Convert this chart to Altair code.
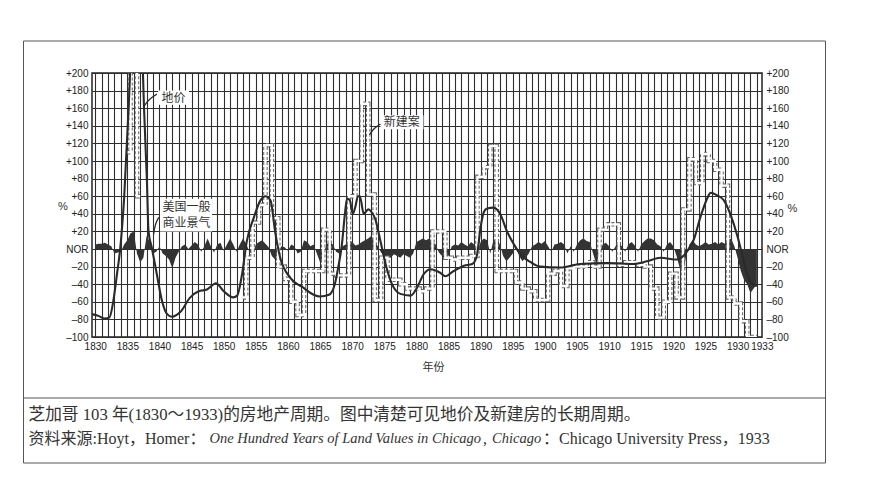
import altair as alt
import pandas as pd

# ---------------- data ----------------
# land values (% of normal), smooth solid line
land_year = [1829.5, 1830.5, 1831.5, 1832.2, 1832.8, 1833.4, 1833.9, 1834.5, 1835.2, 1835.6,
             1836.0, 1837.0, 1837.3, 1837.6, 1838.05, 1838.3, 1838.8, 1839.6, 1840.4, 1841.2,
             1841.95, 1843.2, 1844.8, 1846.1, 1847.4, 1848.8, 1850.0, 1851.5, 1852.1, 1852.85,
             1853.6, 1854.7, 1855.7, 1856.5, 1857.3, 1858.0, 1858.8, 1860.4, 1862.4, 1864.0,
             1865.0, 1866.4, 1867.3, 1867.8, 1868.4, 1868.9, 1869.2, 1869.6, 1870.1, 1870.5,
             1870.9, 1871.2, 1871.8, 1872.5, 1872.9, 1873.6, 1874.4, 1875.2, 1876.2, 1877.5,
             1879.1, 1880.1, 1881.1, 1882.2, 1883.7, 1884.5, 1885.8, 1887.4, 1888.7, 1889.4,
             1890.0, 1890.5, 1891.0, 1892.0, 1893.1, 1894.1, 1895.2, 1896.2, 1897.8, 1899.3,
             1902.4, 1905.5, 1909.7, 1913.8, 1915.9, 1918.0, 1920.6, 1922.2, 1923.2, 1924.2,
             1925.3, 1925.8, 1926.8, 1927.9, 1928.9, 1930.0, 1930.7, 1931.5, 1932.3, 1933.0]
land_val = [-74, -76, -79, -78, -60, -28, 1, 58, 160, 230,
            320, 320, 230, 160, 77, 20, 2, -29, -59, -74,
            -77, -72, -55, -48, -46, -39, -48, -55, -53, -29,
            9, 36, 55, 60, 55, 20, -10, -33, -44, -52,
            -54, -52, -40, -22, 5, 42, 57, 56, 40, 48,
            60, 60, 40, 45, 43, 34, 9, -17, -40, -51,
            -53, -44, -29, -23, -27, -31, -25, -19, -17, -8,
            25, 42, 46, 47, 39, 20, 5, -6, -15, -20,
            -21, -17, -16, -17, -14, -10, -12, -2, 11, 36,
            58, 64, 61, 55, 39, 14, -6, -29, -40, -42]

# new construction (% of normal), yearly steps, two stretches of data
con_year_a = [1835, 1836, 1837]
con_val_a = [110, 250, 60]
con_year_b = list(range(1853, 1934))
con_val_b = [-55, -10, 30, 50, 118, 35, -20, -34, -60, -75,
             -25, -25, -25, 22, -28, -30, -30, 60, 100, 165,
             62, -58, -10, -35, -35, -40, -45, -45, -48, -45,
             20, 20, -10, -12, -10, -10, -8, 82, 93, 117,
             -25, -25, -25, -38, -45, -48, -58, -58, -28, -25,
             -42, -22, -20, -20, -15, -20, 22, 28, 28, -18,
             -15, -15, -18, -20, -45, -78, -60, -28, -55, 45,
             102, 75, 108, 100, 90, 72, -55, -62, -82, -100,
             -100]

# general business activity in the US, half-year readings from 1830.0
biz_vals = [5, 6, 6, 7, 5, 3, -5, -4, -3, 5,
            10, 18, 20, -5, -15, -10, 15, 8, -5, -3,
            3, -5, -8, -12, -22, -10, -3, 3, 5, 0,
            4, 8, 5, -3, 3, 12, 3, -4, 5, 7,
            -2, 5, 12, 5, -3, 5, 12, 6, -3, -6,
            5, 8, 10, 6, 2, -8, -12, -4, 3, 2,
            -2, 5, 3, -5, -3, 10, 8, 3, 5, -5,
            -15, -8, 5, 8, 5, -3, -5, 3, 5, 10,
            8, 4, 5, 8, 10, 12, 15, 8, 3, -4,
            -8, -8, -10, -6, -8, -10, -6, -8, -10, -5,
            8, 10, 12, 10, 12, 8, 5, -4, -8, -12,
            -8, 3, 5, 4, 8, 5, 3, 8, 5, -3,
            8, 12, 10, -5, 10, 12, 5, -8, -14, -10,
            -5, 3, -8, -14, -10, -5, 3, 5, 8, 6,
            9, 3, -3, 5, 6, 8, 5, -5, 3, -3,
            5, 10, 12, 9, 8, -5, -17, -5, 5, 7,
            3, -3, 3, 6, 3, -3, 5, 8, 4, -3,
            5, 9, 12, 12, 10, 5, 3, -3, 5, 8,
            3, -8, -22, -27, -8, 5, 10, 5, 3, 5,
            8, 5, 6, 8, 5, 8, 6, 10, 12, 3,
            -10, -25, -35, -40, -50, -45, -40]
biz_year = [1830 + 0.5 * i for i in range(len(biz_vals))]

# axes
y_ticks = list(range(-100, 201, 20))
x_grid_years = list(range(1830, 1934))
x_label_years = [1830, 1835, 1840, 1845, 1850, 1855, 1860, 1865, 1870, 1875, 1880, 1885,
                 1890, 1895, 1900, 1905, 1910, 1915, 1920, 1925, 1930, 1933]

# annotations
ann_text = ['地价', '新建案', '美国一般', '商业景气']
ann_x = [1842.2, 1877.7, 1844.2, 1844.2]
ann_y = [172, 144, 48, 29]
box_x0 = [1839.8, 1874.4, 1840.1]
box_x1 = [1844.6, 1881.1, 1848.2]
box_y0 = [164, 136, 20]
box_y1 = [180, 152, 57]
lead_id = ['a', 'a', 'a', 'b', 'b', 'b', 'c', 'c', 'c']
lead_x = [1837.6, 1838.3, 1839.6, 1872.7, 1873.35, 1874.4, 1839.1, 1839.35, 1839.9]
lead_y = [162, 170, 176, 130, 137, 142, 17, 29, 36]

caption1 = '芝加哥 103 年(1830～1933)的房地产周期。图中清楚可见地价及新建房的长期周期。'
cap2_a = '资料来源:Hoyt，Homer：'
cap2_b = 'One Hundred Years of Land Values in Chicago'
cap2_c = ','
cap2_d = 'Chicago'
cap2_e = '：Chicago University Press，1933'

# ---------------- tables ----------------
land_df = pd.DataFrame({'year': land_year, 'val': land_val})
con_df = pd.concat([
    pd.DataFrame({'year': con_year_a, 'val': con_val_a, 'seg': 'a'}),
    pd.DataFrame({'year': con_year_b, 'val': con_val_b, 'seg': 'b'}),
])
biz_df = pd.DataFrame({'year': biz_year, 'val': biz_vals})
text_df = pd.DataFrame({'t': ann_text, 'x': ann_x, 'y': ann_y})
box_df = pd.DataFrame({'x0': box_x0, 'x1': box_x1, 'y0': box_y0, 'y1': box_y1})
lead_df = pd.DataFrame({'id': lead_id, 'x': lead_x, 'y': lead_y})
one = pd.DataFrame({'k': [0]})

# ---------------- scales & axes ----------------
INK = '#2a2a2a'
GRID = '#2e2e2e'
xscale = alt.Scale(domain=[1829.5, 1933.8], nice=False, zero=False)
yscale = alt.Scale(domain=[-100, 200], nice=False, zero=False)

lbl = ','.join(str(v) for v in x_label_years)
xaxis = alt.Axis(values=x_grid_years, format='d',
                 labelExpr=f"indexof([{lbl}], datum.value) >= 0 ? datum.label : ''",
                 grid=True, gridColor=GRID, gridWidth=1.1, ticks=False, domain=False,
                 labelOverlap=False, labelFlush=False, labelPadding=4,
                 labelOffset={'condition': {'test': 'datum.value == 1933', 'value': 5},
                              'value': 0},
                 labelFont='Liberation Sans', labelFontSize=10, labelColor='#222',
                 title='年份', titleFont='Noto Sans CJK SC', titleFontSize=11,
                 titleFontWeight='normal', titleColor='#333', titleX=341, titleY=30,
                 titleAlign='center', titleBaseline='middle')

ylab = "datum.value > 0 ? '+' + datum.value : (datum.value == 0 ? 'NOR' : '–' + abs(datum.value))"


def yaxis(orient, grid, tx, ty):
    return alt.Axis(orient=orient, values=y_ticks, labelExpr=ylab, grid=grid,
                    gridColor=GRID, gridWidth=1.1, ticks=False, domain=False,
                    labelPadding=4, labelFont='Liberation Sans', labelFontSize=10,
                    labelColor='#222', title='%', titleAngle=0, titleX=tx, titleY=ty,
                    titleFont='Liberation Sans', titleFontSize=11, titleFontWeight='normal',
                    titleColor='#333', titleAlign='center', titleBaseline='middle')


yaxis_left = yaxis('left', True, -29.5, 133)
yaxis_right = yaxis('right', False, 30, 135)


def X(f):
    return alt.X(f'{f}:Q', scale=xscale, axis=xaxis)


def Y(f):
    return alt.Y(f'{f}:Q', scale=yscale, axis=yaxis_left)


# ---------------- layers ----------------
frame = alt.Chart(one).mark_rect(fill='white', fillOpacity=0, stroke='#555', strokeWidth=1).encode(
    x=alt.value(-68.5), x2=alt.value(733.5), y=alt.value(-32), y2=alt.value(390))
sep = alt.Chart(one).mark_rule(stroke='#555', strokeWidth=1).encode(
    x=alt.value(-68.5), x2=alt.value(733.5), y=alt.value(325))

biz = alt.Chart(biz_df).mark_area(color='#333333', interpolate='linear').encode(
    x=X('year'), y=Y('val'), y2=alt.datum(0))

con_edge = alt.Chart(con_df).mark_line(interpolate='step', stroke='#6a6a6a', strokeWidth=4.5,
                                       strokeDash=[3, 2], clip=True).encode(
    x=X('year'), y=Y('val'), detail='seg:N')
con_core = alt.Chart(con_df).mark_line(interpolate='step', stroke='white', strokeWidth=2.4,
                                       clip=True).encode(
    x=X('year'), y=Y('val'), detail='seg:N')

land = alt.Chart(land_df).mark_line(interpolate='monotone', stroke=INK, strokeWidth=2.1,
                                    clip=True).encode(x=X('year'), y=Y('val'))

boxes = alt.Chart(box_df).mark_rect(fill='white').encode(
    x=X('x0'), x2='x1:Q', y=Y('y0'), y2='y1:Q')
leaders = alt.Chart(lead_df).mark_line(interpolate='basis', stroke=INK, strokeWidth=1.3).encode(
    x=X('x'), y=Y('y'), detail='id:N')
texts = alt.Chart(text_df).mark_text(font='Noto Sans CJK SC', fontSize=12, color='#333',
                                     align='center', baseline='middle').encode(
    x=X('x'), y=Y('y'), text='t:N')

SERIF = 'Liberation Serif, Noto Sans CJK SC'


def cap(txt, px, py, size, style='normal'):
    return alt.Chart(one).mark_text(text=txt, font=SERIF, fontSize=size, fontStyle=style,
                                    color='#333', align='left', baseline='middle').encode(
        x=alt.value(px), y=alt.value(py))


captions = [
    cap(caption1, -63.5, 342, 16.7),
    cap(cap2_a, -63.5, 366, 16),
    cap(cap2_b, 117.5, 366, 14.5, 'italic'),
    cap(cap2_c, 391, 366, 16),
    cap(cap2_d, 400, 366, 14.5, 'italic'),
    cap(cap2_e, 451, 366, 16),
]

inner = alt.layer(frame, sep, biz, con_edge, con_core, land, boxes, leaders, texts, *captions)

right_axis = alt.Chart(biz_df).mark_line(opacity=0).encode(
    x=X('year'), y=alt.Y('val:Q', scale=yscale, axis=yaxis_right))

chart = alt.layer(inner, right_axis).resolve_scale(y='independent').properties(
    width=670, height=264,
    padding={'left': 15, 'top': 32, 'right': 5, 'bottom': 5},
    background='white',
).configure_view(stroke='#222', strokeWidth=1.5)

chart.save('out.html', embed_options={'renderer': 'svg', 'actions': False})
